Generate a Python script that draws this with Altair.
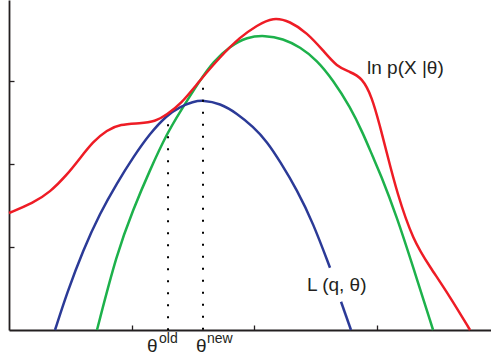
import altair as alt
import pandas as pd

# ln p(X|theta)  (red)
red_x = [0.0, 0.196, 0.334, 0.473, 0.579, 0.685, 0.799, 0.905, 1.068, 1.19, 1.288, 1.394,
         1.557, 1.72, 1.883, 2.021, 2.152, 2.29, 2.429, 2.559, 2.673, 2.779, 2.877, 2.958,
         3.024, 3.073, 3.162, 3.293, 3.431, 3.594, 3.757]
red_y = [1.41, 1.53, 1.66, 1.87, 2.07, 2.27, 2.41, 2.48, 2.49, 2.51, 2.60, 2.71,
         3.01, 3.29, 3.53, 3.67, 3.77, 3.72, 3.58, 3.37, 3.17, 3.11, 3.04, 2.81,
         2.45, 2.17, 1.65, 1.08, 0.76, 0.40, 0.0]

# L(q, theta)  (blue) -- segment 0 and 1 separated by the label gap
blue_x = [0.375, 0.473, 0.603, 0.742, 0.88, 1.011, 1.149, 1.288, 1.394, 1.50, 1.581,
          1.72, 1.858, 1.989, 2.103, 2.209, 2.347, 2.478, 2.616, 2.706, 2.787]
blue_y = [0.0, 0.45, 0.96, 1.41, 1.77, 2.08, 2.37, 2.59, 2.69, 2.75, 2.77,
          2.73, 2.61, 2.45, 2.27, 2.03, 1.69, 1.29, 0.75, 0.34, 0.0]
blue_seg = [0] * 19 + [1] * 2

# new lower bound (green)
green_x = [0.717, 0.88, 1.011, 1.149, 1.288, 1.394, 1.557, 1.663, 1.801, 1.94, 2.086,
           2.233, 2.372, 2.51, 2.641, 2.779, 2.885, 2.967, 3.024, 3.162, 3.293, 3.456]
green_y = [0.0, 0.93, 1.45, 1.93, 2.37, 2.63, 3.01, 3.23, 3.42, 3.53, 3.55,
           3.51, 3.41, 3.25, 3.01, 2.69, 2.37, 2.08, 1.89, 1.36, 0.76, 0.0]

# theta markers (dotted lines)
theta_names = ["old", "new"]
theta_x = [1.296, 1.581]
theta_top = [2.48, 2.92]

tick_values = [1, 2, 3]

X_DOMAIN = [0, 3.928]
Y_DOMAIN = [0, 3.976]

xs = alt.Scale(domain=X_DOMAIN, nice=False, zero=False)
ys = alt.Scale(domain=Y_DOMAIN, nice=False, zero=False)

axis_common = dict(labels=False, grid=False, title=None, values=tick_values,
                   domainColor="#231f20", domainWidth=1.8, tickColor="#231f20",
                   tickWidth=1.3, tickSize=5)

red_df = pd.DataFrame({"x": red_x, "y": red_y})
blue_df = pd.DataFrame({"x": blue_x, "y": blue_y, "seg": blue_seg})
green_df = pd.DataFrame({"x": green_x, "y": green_y})
theta_df = pd.DataFrame({"name": theta_names, "x": theta_x, "top": theta_top, "bottom": [0, 0]})

base_x = alt.X("x:Q", scale=xs, axis=alt.Axis(orient="top", offset=-330, **axis_common))
base_y = alt.Y("y:Q", scale=ys, axis=alt.Axis(orient="right", offset=-482, **axis_common))

CURVE = "basis"

green = alt.Chart(green_df).mark_line(color="#1db14b", strokeWidth=2.5, interpolate=CURVE).encode(
    x=base_x, y=base_y, order="x:Q")
blue = alt.Chart(blue_df).mark_line(color="#2b3a97", strokeWidth=2.5, interpolate=CURVE).encode(
    x=alt.X("x:Q", scale=xs), y=alt.Y("y:Q", scale=ys), detail="seg:N", order="x:Q")
red = alt.Chart(red_df).mark_line(color="#ee1c25", strokeWidth=2.5, interpolate=CURVE).encode(
    x=alt.X("x:Q", scale=xs), y=alt.Y("y:Q", scale=ys), order="x:Q")

rules = alt.Chart(theta_df).mark_rule(color="#000000", strokeWidth=2, strokeDash=[2, 10], strokeCap="butt").encode(
    x=alt.X("x:Q", scale=xs), y=alt.Y("top:Q", scale=ys), y2="bottom:Q")

FONT = "Liberation Sans"

def label(text, x, y, size):
    return alt.Chart(pd.DataFrame({"t": [text]})).mark_text(
        align="left", baseline="alphabetic", font=FONT, fontSize=size, color="#231f20"
    ).encode(text="t:N", x=alt.value(x), y=alt.value(y))

labels = [
    label("ln p(X |θ)", 358, 74, 19),
    label("L (q, θ)", 298, 291, 19),
    label("θ", 138, 352, 19),
    label("old", 150, 343, 14),
    label("θ", 187, 352, 19),
    label("new", 198, 343, 14),
]

chart = alt.layer(green, blue, red, rules, *labels).properties(
    width=482, height=330,
    autosize=alt.AutoSizeParams(type="none"),
    padding={"left": 9, "top": 0, "right": 0, "bottom": 33},
).configure_view(stroke="transparent")

chart.save("out.html", embed_options={"renderer": "svg", "actions": False})
